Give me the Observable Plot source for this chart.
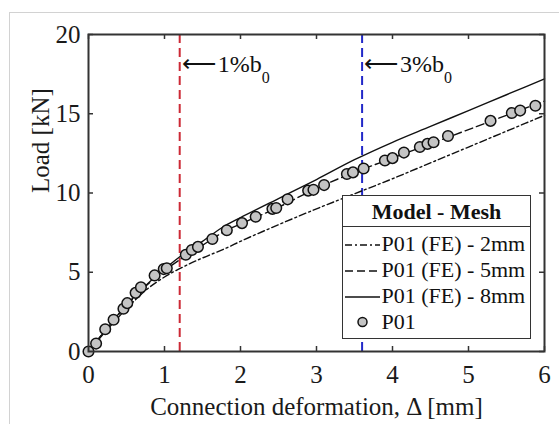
<!DOCTYPE html>
<html>
<head>
<meta charset="utf-8">
<script src="https://cdn.jsdelivr.net/npm/d3@7"></script>
<script src="https://cdn.jsdelivr.net/npm/@observablehq/plot@0.6"></script>
<style>
  html, body { margin: 0; padding: 0; background: #fff; overflow: hidden; }
  #wrap { position: relative; width: 559px; height: 424px; }
  #outer { position: absolute; left: 9px; top: 12px; width: 600px; height: 500px; border: 1.5px solid #d2d2d2; pointer-events: none; }
  #legend { position: absolute; left: 342px; top: 195px; width: 189px; height: 144px; box-sizing: border-box;
            border: 1.5px solid #333; background: #fff; font-family: "Liberation Serif", serif; font-size: 22px; color: #111; }
  #legend .head { height: 31px; line-height: 31px; text-align: center; font-weight: bold; border-bottom: 1.5px solid #333; box-sizing: border-box; }
  #legend .rows { padding-top: 4px; }
  #legend .row { height: 26px; line-height: 26px; display: flex; align-items: center; white-space: nowrap; }
  #legend .row svg { margin-left: 1.5px; margin-right: 2px; flex: none; }
</style>
</head>
<body>
<div id="wrap"></div>
<script>
// ---- data ----
const xTicks = [0, 1, 2, 3, 4, 5, 6];
const yTicks = [0, 5, 10, 15, 20];

// experimental P01
const p01X = [0, 0.1, 0.22, 0.33, 0.46, 0.51, 0.62, 0.69, 0.87, 0.99, 1.03, 1.28, 1.36, 1.44, 1.63, 1.82, 2.02, 2.2, 2.42, 2.47, 2.62, 2.89, 2.96, 3.1, 3.4, 3.48, 3.62, 3.9, 4.0, 4.15, 4.36, 4.46, 4.54, 4.73, 5.29, 5.57, 5.68, 5.88];
const p01Y = [0, 0.5, 1.4, 2.0, 2.7, 3.05, 3.7, 4.05, 4.8, 5.2, 5.25, 6.1, 6.4, 6.6, 7.1, 7.65, 8.1, 8.5, 9.0, 9.05, 9.6, 10.15, 10.2, 10.5, 11.2, 11.3, 11.55, 12.05, 12.2, 12.55, 12.9, 13.1, 13.2, 13.6, 14.55, 15.05, 15.2, 15.5];

// FE curves
const feX    = [0, 0.25, 0.5, 0.75, 1, 1.25, 1.5, 1.8, 2, 2.5, 3, 3.5, 4, 4.5, 5, 5.5, 6];
const mesh2Y = [0, 1.4, 2.7, 3.85, 4.7, 5.35, 5.9, 6.5, 6.95, 8.0, 9.0, 9.95, 10.9, 11.9, 12.9, 13.9, 14.9];
const mesh5Y = [0, 1.5, 2.9, 4.1, 5.1, 5.95, 6.7, 7.6, 8.05, 9.1, 10.3, 11.3, 12.2, 13.1, 14.0, 14.9, 15.8];
const mesh8Y = [0, 1.5, 2.95, 4.15, 5.2, 6.15, 6.95, 7.95, 8.45, 9.65, 10.85, 12.1, 13.2, 14.2, 15.2, 16.2, 17.2];

const seriesNames = ["P01 (FE) - 2mm", "P01 (FE) - 5mm", "P01 (FE) - 8mm"];
const expName = "P01";

// reference lines
const refX = [1.2, 3.6];
const refLabels = ["\u27F5\u200A1%b", "\u27F5\u200A3%b"];
const refSub = "0";

const xLabel = "Connection deformation, \u0394 [mm]";
const yLabel = "Load [kN]";
const legendTitle = "Model - Mesh";

// ---- styles ----
const dashes = ["7,3,2,3", "8,4", null];
const refColors = ["#cc2a36", "#2228c8"];

const W = 559, H = 424, mL = 88, mR = 15, mT = 34, mB = 73;
const FW = W - mL - mR, FH = H - mT - mB;

const curves = [mesh2Y, mesh5Y, mesh8Y].map((ys, i) =>
  feX.map((x, j) => ({x, y: ys[j], s: seriesNames[i]})));
const pts = p01X.map((x, i) => ({x, y: p01Y[i]}));
const refs = refX.map((x, i) => ({x, label: refLabels[i], color: refColors[i]}));

const chart = Plot.plot({
  width: W, height: H,
  marginLeft: mL, marginRight: mR, marginTop: mT, marginBottom: mB,
  style: {fontFamily: "'Liberation Serif', serif", fontSize: "25px", background: "transparent", color: "#1a1a1a"},
  x: {domain: [0, 6]},
  y: {domain: [0, 20]},
  marks: [
    Plot.axisX({ticks: xTicks, tickSize: 0, tickPadding: 14, label: null, tickFormat: d => String(d)}),
    Plot.axisY({ticks: yTicks, tickSize: 0, tickPadding: 8, label: null, tickFormat: d => String(d)}),
    // inward ticks on all four sides
    Plot.tickX(xTicks, {x: d => d, insetTop: FH - 5, stroke: "#333", strokeWidth: 1.5}),
    Plot.tickX(xTicks, {x: d => d, insetBottom: FH - 5, stroke: "#333", strokeWidth: 1.5}),
    Plot.tickY(yTicks, {y: d => d, insetRight: FW - 5, stroke: "#333", strokeWidth: 1.5}),
    Plot.tickY(yTicks, {y: d => d, insetLeft: FW - 5, stroke: "#333", strokeWidth: 1.5}),
    // reference lines
    ...refs.map(r => Plot.ruleX([r], {x: "x", stroke: r.color, strokeWidth: 2, strokeDasharray: "9,5"})),
    Plot.text(refs, {x: "x", text: "label", frameAnchor: "top", textAnchor: "start", lineAnchor: "bottom",
                     dx: 2, dy: 37, fontSize: 24, fill: "#111"}),
    // FE curves
    ...curves.map((c, i) => Plot.line(c, {x: "x", y: "y", stroke: "#111", strokeWidth: 1.4,
                                           strokeDasharray: dashes[i] || undefined, curve: "monotone-x"})),
    // experiment
    Plot.dot(pts, {x: "x", y: "y", r: 5.3, fill: "#c4c4c4", stroke: "#111", strokeWidth: 1.5}),
    Plot.frame({stroke: "#333", strokeWidth: 2}),
    // axis titles
    Plot.text([xLabel], {text: d => d, frameAnchor: "bottom", lineAnchor: "bottom", dy: 63, fontSize: 25, fill: "#1a1a1a"}),
    Plot.text([yLabel], {text: d => d, frameAnchor: "left", rotate: -90, dx: -48, fontSize: 25, fill: "#1a1a1a"})
  ]
});

// subscripts on the reference annotations
d3.select(chart).selectAll("text").filter(function() {
  return refLabels.includes(this.textContent);
}).append("tspan").attr("dy", 11).attr("font-size", 16).text(refSub);

const wrap = document.getElementById("wrap");
wrap.appendChild(chart);
chart.style.position = "absolute"; chart.style.left = "0"; chart.style.top = "0";

// legend
const leg = document.createElement("div");
leg.id = "legend";
const head = document.createElement("div");
head.className = "head"; head.textContent = legendTitle;
leg.appendChild(head);
const rows = document.createElement("div"); rows.className = "rows";
const ns = "http://www.w3.org/2000/svg";
const items = seriesNames.map((n, i) => ({name: n, dash: dashes[i], kind: "line"})).concat([{name: expName, kind: "dot"}]);
items.forEach(it => {
  const row = document.createElement("div"); row.className = "row";
  const s = document.createElementNS(ns, "svg");
  s.setAttribute("width", 35); s.setAttribute("height", 26);
  if (it.kind === "line") {
    const l = document.createElementNS(ns, "line");
    l.setAttribute("x1", 0); l.setAttribute("x2", 35); l.setAttribute("y1", 14); l.setAttribute("y2", 14);
    l.setAttribute("stroke", "#111"); l.setAttribute("stroke-width", 1.5);
    if (it.dash) l.setAttribute("stroke-dasharray", it.dash);
    s.appendChild(l);
  } else {
    const c = document.createElementNS(ns, "circle");
    c.setAttribute("cx", 17.5); c.setAttribute("cy", 13); c.setAttribute("r", 4.5);
    c.setAttribute("fill", "#c4c4c4"); c.setAttribute("stroke", "#111"); c.setAttribute("stroke-width", 1.5);
    s.appendChild(c);
  }
  row.appendChild(s);
  const t = document.createElement("span"); t.textContent = it.name;
  row.appendChild(t);
  rows.appendChild(row);
});
leg.appendChild(rows);
wrap.appendChild(leg);

const outer = document.createElement("div"); outer.id = "outer";
wrap.appendChild(outer);
</script>
</body>
</html>
